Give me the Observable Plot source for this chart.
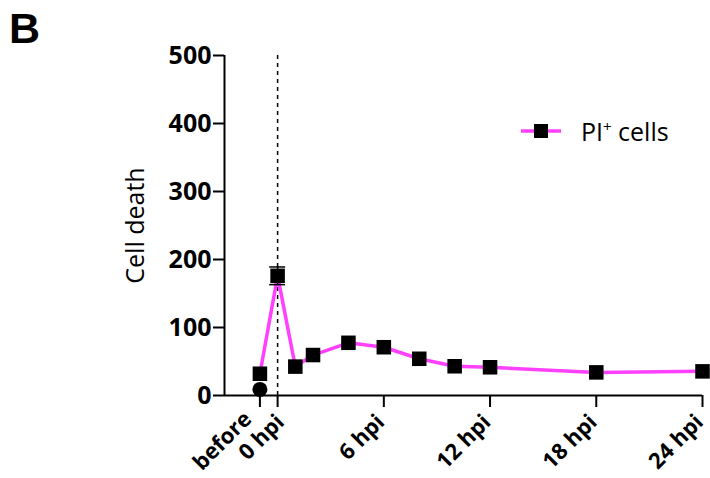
<!DOCTYPE html>
<html>
<head>
<meta charset="utf-8">
<script src="https://cdn.jsdelivr.net/npm/d3@7"></script>
<script src="https://cdn.jsdelivr.net/npm/@observablehq/plot@0.6"></script>
<style>
  html, body { margin: 0; padding: 0; background: #fff; }
  #wrap { position: relative; width: 710px; height: 478px; font-family: "Open Sans", sans-serif; }
  #panel { position: absolute; left: 9px; top: 4px; font-family: "Liberation Sans", Arial, sans-serif; font-size: 43px; font-weight: bold; line-height: normal; }
  #legend { position: absolute; left: 520px; top: 114px; display: flex; align-items: center; font-size: 25px; line-height: 34px; }
  #legend svg { margin-right: 19px; }
  sup { font-size: 15px; vertical-align: 9px; line-height: 0; }
</style>
</head>
<body>
<div id="wrap">
  <div id="chart"></div>
  <div id="panel">B</div>
  <div id="legend"><svg width="42" height="18"><line x1="1" x2="41" y1="9" y2="9" stroke="#ff40ff" stroke-width="3.5"/><rect x="14" y="2" width="14" height="14" fill="#000"/></svg><span>PI<sup>+</sup> cells</span></div>
</div>
<script>
// Data (hours post infection; "before" shown at -1)
const hours = [-1, 0, 1, 2, 4, 6, 8, 10, 12, 18, 24];
const piCells = [32, 176, 42.5, 59.5, 77.5, 71, 54, 43, 41.5, 34, 35.5];
const errHour = [0];
const errValue = [176];
const errSD = [13];
const baselineHour = [-1];
const baselineValue = [9];
const xTicks = [-1, 0, 6, 12, 18, 24];
const xTickLabels = ["before", "0 hpi", "6 hpi", "12 hpi", "18 hpi", "24 hpi"];
const yTicks = [0, 100, 200, 300, 400, 500];
const xDomain = [-3, 24];
const yDomain = [0, 500];
const infectionHour = [0];

const series = hours.map((h, i) => ({h, v: piCells[i]}));
const errs = errHour.map((h, i) => ({h, v: errValue[i], sd: errSD[i]}));
const base = baselineHour.map((h, i) => ({h, v: baselineValue[i]}));
const magenta = "#ff40ff";
const labelOf = (d) => xTickLabels[xTicks.indexOf(d)];
const labelStyle = {x: (d) => d, text: labelOf, frameAnchor: "bottom", rotate: -45, textAnchor: "end", lineAnchor: "middle", fontSize: 22, fontWeight: "bold", fill: "#000"};

const chart = Plot.plot({
  width: 710,
  height: 478,
  marginLeft: 224,
  marginRight: 8,
  marginTop: 55,
  marginBottom: 83,
  style: {fontFamily: "'Open Sans', sans-serif", color: "#000", background: "#fff", overflow: "visible"},
  x: {domain: xDomain},
  y: {domain: yDomain},
  marks: [
    Plot.ruleX(infectionHour, {y1: yDomain[0], y2: yDomain[1], strokeDasharray: "4,4", strokeWidth: 1.5, stroke: "#000"}),
    Plot.axisY({ticks: yTicks, tickSize: 11, tickPadding: 2, fontSize: 25, fontWeight: "bold", strokeWidth: 2, label: null}),
    // tick marks only
    Plot.axisX({ticks: xTicks, tickSize: 12, tickFormat: () => "", strokeWidth: 2, label: null}),
    // tick labels: "before" and "0 hpi" nudged apart as in the original figure
    Plot.text(xTicks.slice(0, 1), {...labelStyle, dx: -12, dy: 20}),
    Plot.text(xTicks.slice(1, 2), {...labelStyle, dx: 3, dy: 23}),
    Plot.text(xTicks.slice(2), {...labelStyle, dx: -3, dy: 23}),
    Plot.ruleY([yDomain[0]], {strokeWidth: 2, stroke: "#000"}),
    Plot.ruleX([xDomain[0]], {y1: yDomain[0], y2: yDomain[1], strokeWidth: 2, stroke: "#000"}),
    Plot.text(["Cell death"], {frameAnchor: "left", textAnchor: "middle", dx: -89, rotate: -90, fontSize: 25, fill: "#000"}),
    Plot.line(series, {x: "h", y: "v", stroke: magenta, strokeWidth: 3.5}),
    Plot.ruleX(errs, {x: "h", y1: (d) => d.v - d.sd, y2: (d) => d.v + d.sd, stroke: "#000", strokeWidth: 1.5}),
    Plot.ruleY(errs, {y: (d) => d.v - d.sd, x1: (d) => d.h - 0.45, x2: (d) => d.h + 0.45, stroke: "#000", strokeWidth: 1.5}),
    Plot.ruleY(errs, {y: (d) => d.v + d.sd, x1: (d) => d.h - 0.45, x2: (d) => d.h + 0.45, stroke: "#000", strokeWidth: 1.5}),
    Plot.dot(series, {x: "h", y: "v", symbol: "square", r: 8.2, fill: "#000"}),
    Plot.dot(base, {x: "h", y: "v", r: 7.5, fill: "#000"})
  ]
});
document.getElementById("chart").appendChild(chart);
</script>
</body>
</html>
